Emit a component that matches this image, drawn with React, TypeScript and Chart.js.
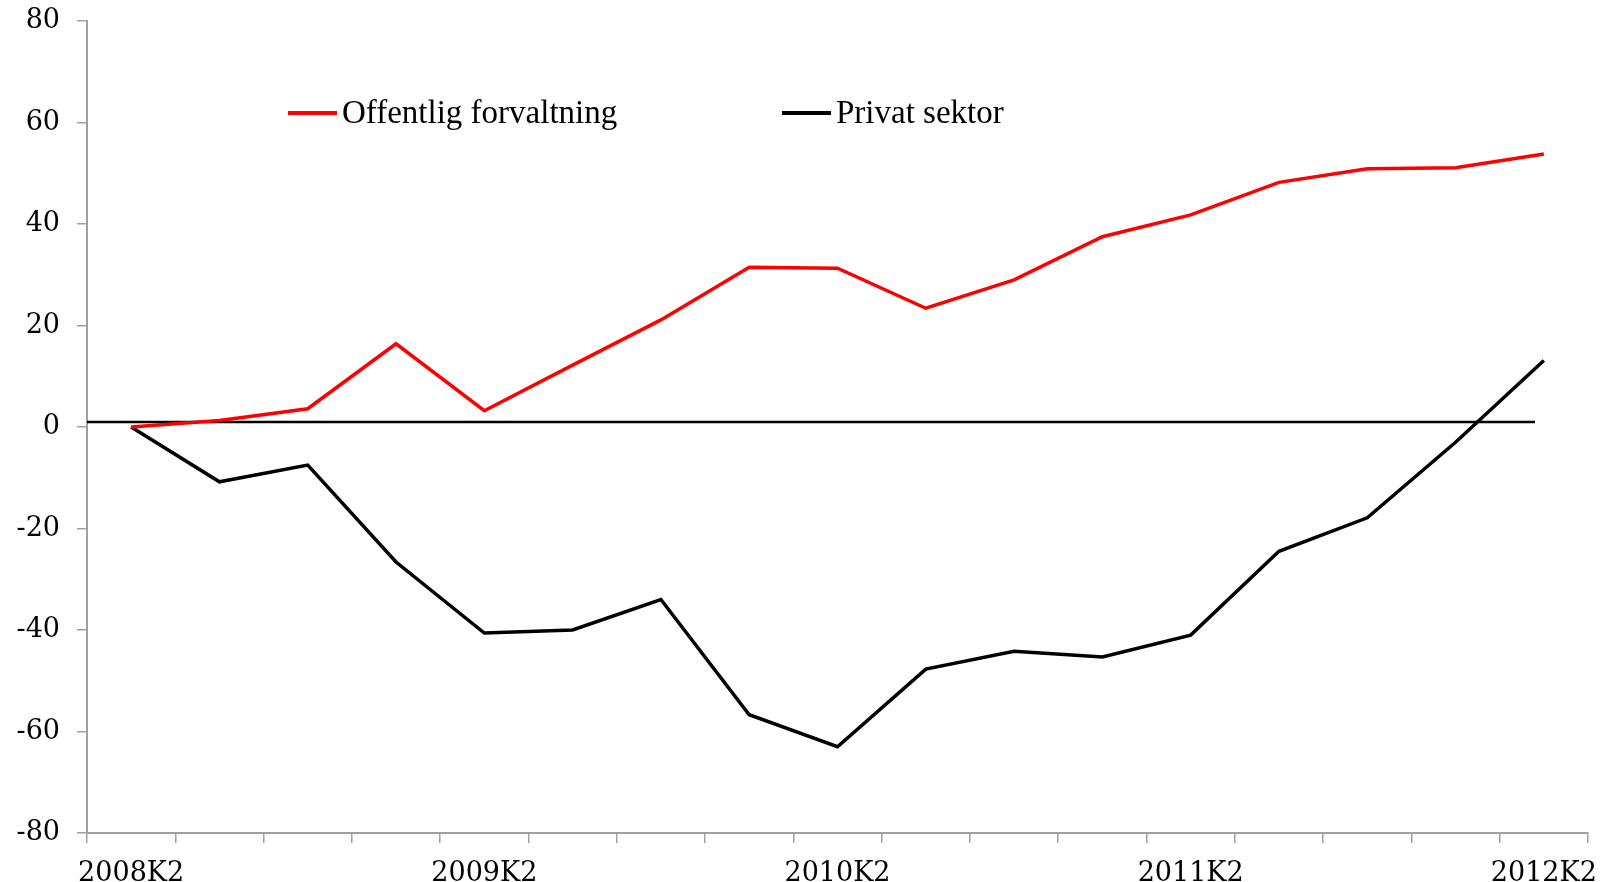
import React, { useEffect, useRef } from 'react';
import { Chart, registerables } from 'chart.js';

Chart.register(...registerables);

const QUARTERS = [
  '2008K2', '2008K3', '2008K4', '2009K1', '2009K2', '2009K3', '2009K4', '2010K1',
  '2010K2', '2010K3', '2010K4', '2011K1', '2011K2', '2011K3', '2011K4', '2012K1', '2012K2',
];
const OFFENTLIG = [0, 1.3, 3.6, 16.4, 3.2, 12.2, 21.1, 31.5, 31.3, 23.4, 29.0, 37.5, 41.8, 48.2, 50.9, 51.1, 53.8];
const PRIVAT = [0, -10.8, -7.5, -26.6, -40.6, -40.0, -34.0, -56.7, -63.0, -47.7, -44.2, -45.3, -41.0, -24.5, -17.9, -3.0, 13.1];
const SERIES_LABELS = ['Offentlig forvaltning', 'Privat sektor'];
const SERIES_COLORS = ['#ff0000', '#000000'];
const REF_LINE_X = [-0.5, 15.9];
const REF_LINE_Y = 1;
const Y_MIN = -80;
const Y_MAX = 80;
const Y_STEP = 20;
const LABEL_EVERY = 4;

const AXIS_COLOR = '#a0a0a0';
const TICK_FONT = { family: '"DejaVu Serif", serif', size: 27 };

const insideLegend = {
  id: 'insideLegend',
  afterDraw(chart: any) {
    const { ctx, chartArea } = chart;
    const items = chart.data.datasets.filter((d: any) => d.label);
    const offsets = [201, 695];
    ctx.save();
    ctx.font = '33px "Liberation Serif", serif';
    ctx.textBaseline = 'middle';
    ctx.textAlign = 'left';
    items.forEach((ds: any, i: number) => {
      const x = chartArea.left + offsets[i];
      const y = chartArea.top + 92;
      ctx.strokeStyle = ds.borderColor;
      ctx.lineWidth = 4;
      ctx.beginPath();
      ctx.moveTo(x, y);
      ctx.lineTo(x + 49, y);
      ctx.stroke();
      ctx.fillStyle = '#000';
      ctx.fillText(ds.label, x + 54, y + 1);
    });
    ctx.restore();
  },
};

export default function App() {
  const canvasRef = useRef<HTMLCanvasElement | null>(null);

  useEffect(() => {
    if (!canvasRef.current) return;
    const chart = new Chart(canvasRef.current, {
      type: 'line',
      data: {
        labels: QUARTERS,
        datasets: [
          {
            label: SERIES_LABELS[0],
            data: OFFENTLIG,
            borderColor: SERIES_COLORS[0],
            backgroundColor: SERIES_COLORS[0],
            borderWidth: 3.5,
            pointRadius: 0,
            tension: 0,
            xAxisID: 'x',
            yAxisID: 'y',
          },
          {
            label: SERIES_LABELS[1],
            data: PRIVAT,
            borderColor: SERIES_COLORS[1],
            backgroundColor: SERIES_COLORS[1],
            borderWidth: 3.5,
            pointRadius: 0,
            tension: 0,
            xAxisID: 'x',
            yAxisID: 'y',
          },
          {
            label: '',
            data: REF_LINE_X.map((x) => ({ x, y: REF_LINE_Y })),
            borderColor: '#000000',
            borderWidth: 2.5,
            pointRadius: 0,
            xAxisID: 'x2',
            yAxisID: 'y',
          },
        ],
      },
      options: {
        animation: false,
        responsive: true,
        maintainAspectRatio: false,
        layout: { padding: { top: 21, right: 22, left: 0, bottom: 0 } },
        plugins: { legend: { display: false }, tooltip: { enabled: false } },
        scales: {
          x: {
            type: 'category',
            offset: true,
            grid: {
              display: true,
              drawOnChartArea: false,
              drawTicks: true,
              tickLength: 10,
              color: AXIS_COLOR,
              lineWidth: 1.5,
              offset: true,
            },
            border: { display: true, color: AXIS_COLOR, width: 2 },
            ticks: {
              autoSkip: false,
              maxRotation: 0,
              minRotation: 0,
              padding: 15,
              color: '#000',
              font: TICK_FONT,
              callback: function (this: any, v: any, i: number) {
                return i % LABEL_EVERY === 0 ? this.getLabelForValue(v) : '';
              },
            },
            afterFit: (s: any) => {
              s.height = 49;
              s.paddingLeft = 0;
              s.paddingRight = 0;
            },
          },
          y: {
            min: Y_MIN,
            max: Y_MAX,
            ticks: { stepSize: Y_STEP, padding: 17, color: '#000', font: TICK_FONT },
            grid: { drawOnChartArea: false, tickLength: 10, color: AXIS_COLOR, lineWidth: 1.5 },
            border: { display: true, color: AXIS_COLOR, width: 2 },
            afterFit: (s: any) => {
              s.width = 87;
              s.paddingTop = 0;
              s.paddingBottom = 0;
            },
          },
          x2: {
            type: 'linear',
            display: false,
            min: -0.5,
            max: QUARTERS.length - 0.5,
          },
        },
      } as any,
      plugins: [insideLegend],
    });
    return () => chart.destroy();
  }, []);

  return (
    <div style={{ position: 'fixed', left: 0, top: 0, width: 1610, height: 882, background: '#fff' }}>
      <canvas ref={canvasRef} />
    </div>
  );
}
